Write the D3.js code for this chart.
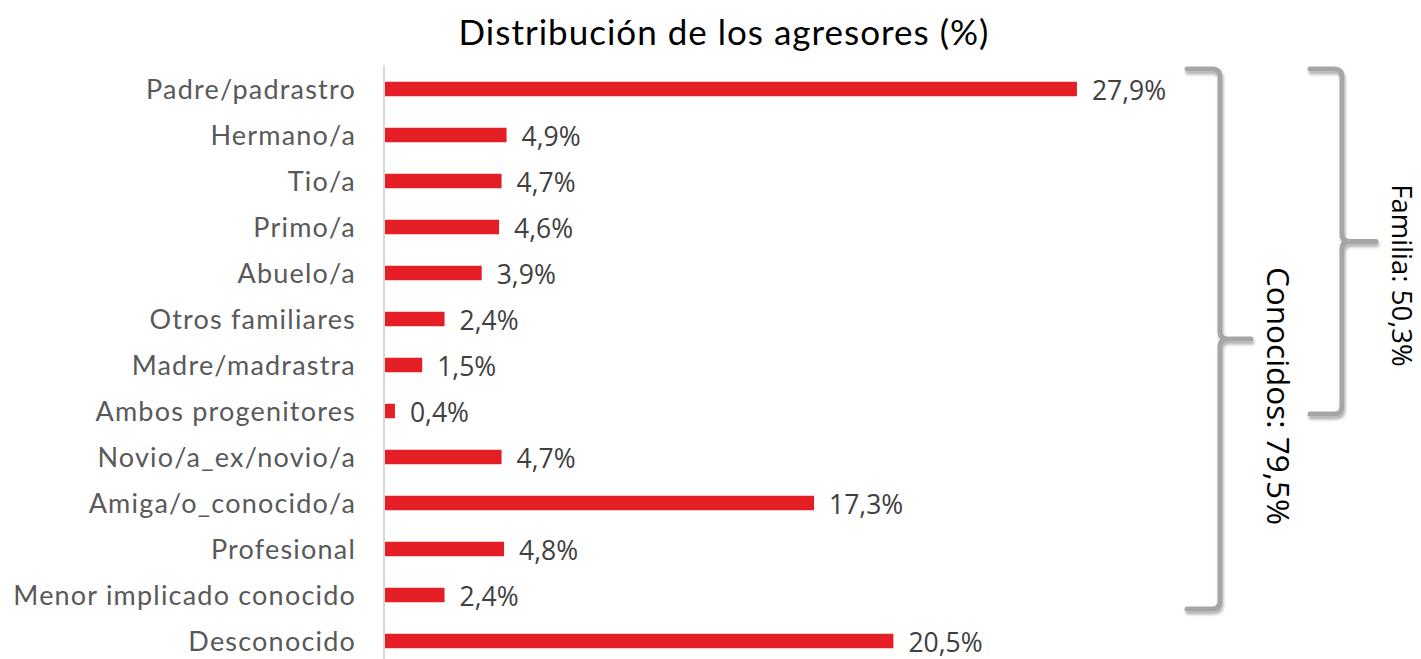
<!DOCTYPE html>
<html><head><meta charset="utf-8">
<script src="https://cdn.jsdelivr.net/npm/d3@7"></script>
<style>body{margin:0;background:#fff}svg{display:block}</style>
</head><body>
<svg id="c" width="1421" height="659"></svg>
<script>
const categories = ["Padre/padrastro","Hermano/a","Tio/a","Primo/a","Abuelo/a","Otros familiares","Madre/madrastra","Ambos progenitores","Novio/a_ex/novio/a","Amiga/o_conocido/a","Profesional","Menor implicado conocido","Desconocido"];
const values = [27.9,4.9,4.7,4.6,3.9,2.4,1.5,0.4,4.7,17.3,4.8,2.4,20.5];
const valueLabels = ["27,9%","4,9%","4,7%","4,6%","3,9%","2,4%","1,5%","0,4%","4,7%","17,3%","4,8%","2,4%","20,5%"];
const title = "Distribución de los agresores (%)";
const groups = [
  {label:"Conocidos: 79,5%", from:"Padre/padrastro", to:"Menor implicado conocido"},
  {label:"Familia: 50,3%", from:"Padre/padrastro", to:"Ambos progenitores"}
];

const svg = d3.select("#c");
const y = d3.scaleBand().domain(categories).range([66,664]).paddingInner(0.685).paddingOuter(0.3425);
const x = d3.scaleLinear().domain([0,30]).range([385,1129]);

const defs = svg.append("defs");
const f = defs.append("filter").attr("id","sh").attr("x","-50%").attr("y","-10%").attr("width","200%").attr("height","120%");
f.append("feDropShadow").attr("dx",1).attr("dy",3).attr("stdDeviation",1.5).attr("flood-color","#000").attr("flood-opacity",0.3);

svg.append("text").attr("x",724).attr("y",45).attr("text-anchor","middle")
  .attr("font-family","Lato, sans-serif").attr("font-size",35).attr("letter-spacing",1).attr("fill","#000").text(title);

svg.selectAll("rect.bar").data(values).join("rect").attr("class","bar")
  .attr("x",x(0)).attr("y",(d,i)=>y(categories[i])).attr("height",y.bandwidth())
  .attr("width",d=>x(d)-x(0)).attr("fill","#e31e24");

svg.selectAll("text.val").data(values).join("text").attr("class","val")
  .attr("x",d=>x(d)+15).attr("y",(d,i)=>y(categories[i])+y.bandwidth()/2+1).attr("dy","0.36em")
  .attr("font-family","'Open Sans', sans-serif").attr("font-size",26.5).attr("fill","#404040")
  .text((d,i)=>valueLabels[i]);

const yAxis = d3.axisLeft(y).tickSize(0).tickPadding(28);
const ga = svg.append("g").attr("transform","translate(384,0)").call(yAxis);
ga.select(".domain").attr("d","M0,65V659").attr("stroke","#d9d9d9").attr("stroke-width",2);
ga.selectAll("text").attr("font-family","Lato, sans-serif").attr("font-size",27).attr("letter-spacing",1.2).attr("fill","#595959").attr("dy","0.36em");

function brace(x0, x1, tipX, y0, y1, ym){
  const r = 8;
  return `M${x0},${y0} L${x1-r},${y0} Q${x1},${y0} ${x1},${y0+r} L${x1},${ym-r} Q${x1},${ym} ${x1+r},${ym} L${tipX},${ym}`+
         ` M${x1+r},${ym} Q${x1},${ym} ${x1},${ym+r} L${x1},${y1-r} Q${x1},${y1} ${x1-r},${y1} L${x0},${y1}`;
}
const bdefs = [
  {x0:1187,x1:1220,tip:1251,label:1267,top:20,bot:14,size:31.5,shift:57},
  {x0:1310,x1:1342,tip:1376,label:1392,top:20,bot:3,size:27.5,shift:34}
];
groups.forEach((g,i)=>{
  const b = bdefs[i];
  const y0 = y(g.from) + y.bandwidth()/2 - b.top;
  const y1 = y(g.to) + y.bandwidth()/2 + b.bot;
  const ym = (y0+y1)/2;
  svg.append("path").attr("d",brace(b.x0,b.x1,b.tip,y0,y1,ym)).attr("fill","none")
    .attr("stroke","#a6a6a6").attr("stroke-width",5).attr("stroke-linecap","round").attr("filter","url(#sh)");
  svg.append("text").attr("transform",`translate(${b.label},${ym+b.shift}) rotate(90)`)
    .attr("text-anchor","middle")
    .attr("font-family","'Open Sans', sans-serif").attr("font-size",b.size).attr("fill","#000").text(g.label);
});
</script>
</body></html>
